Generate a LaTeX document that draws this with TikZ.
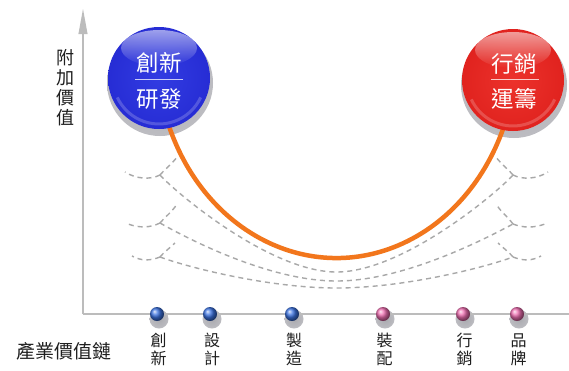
\documentclass[tikz,border=0pt]{standalone}
\usepackage{fontspec}
\newfontfamily\cjk{Noto Sans CJK TC}
\usetikzlibrary{fadings}
\definecolor{axisgray}{RGB}{188,188,188}
\definecolor{dashgray}{RGB}{168,168,168}
\definecolor{curveorange}{RGB}{242,118,28}
\definecolor{bluecore}{RGB}{50,60,226}
\definecolor{bluemid}{RGB}{38,44,212}
\definecolor{bluedeep}{RGB}{26,28,160}
\definecolor{blueedge}{RGB}{16,16,95}
\definecolor{redcore}{RGB}{236,50,44}
\definecolor{redmid}{RGB}{224,34,30}
\definecolor{reddeep}{RGB}{172,16,16}
\definecolor{rededge}{RGB}{105,8,8}
\definecolor{shadowgray}{RGB}{170,170,175}
\definecolor{shadowlight}{RGB}{190,190,195}
\definecolor{beadblue}{RGB}{60,115,225}
\definecolor{beadpink}{RGB}{238,110,176}
\pgfdeclareradialshading{bluebtn}{\pgfpoint{0bp}{0bp}}{color(0bp)=(bluecore); color(26bp)=(bluemid); color(32bp)=(bluedeep); color(35.4bp)=(blueedge); color(50bp)=(blueedge)}
\pgfdeclareradialshading{redbtn}{\pgfpoint{0bp}{0bp}}{color(0bp)=(redcore); color(26bp)=(redmid); color(32bp)=(reddeep); color(35.4bp)=(rededge); color(50bp)=(rededge)}
\pgfdeclareradialshading{softshadow}{\pgfpoint{0bp}{0bp}}{color(0bp)=(shadowgray); color(27bp)=(shadowlight); color(35.4bp)=(white); color(50bp)=(white)}
\tikzfading[name=glossfade, top color=transparent!45, bottom color=transparent!100]
\tikzset{
  dashcurve/.style={dashgray, line width=1.4pt, dash pattern=on 5pt off 4pt},
  ballnote/.style={text=white, inner sep=0pt, font=\cjk\fontsize{22.5}{22.5}\selectfont},
  chainlabel/.style={text=black!88, inner sep=0pt, align=center, font=\cjk\fontsize{16}{18}\selectfont},
}
\begin{document}
\begin{tikzpicture}[x=1pt,y=-1pt]
\useasboundingbox (0,0) rectangle (569,370);
\fill[white] (0,0) rectangle (569,370);
% key points
\coordinate (B) at (159,78);
\coordinate (R) at (513,80);
\coordinate (O) at (83,314);
\coordinate (Ytop) at (83,9);
\coordinate (Yneck) at (83,32);
\coordinate (Xend) at (569,314);
\coordinate (ctr) at (336.5,50);
\foreach \n/\x in {1/157,2/210,3/292,4/383,5/463,6/517}{
  \coordinate (b\n) at (\x,314);
}
% shadows
\shade[shading=softshadow] ([shift={(1,5)}]B) circle (53);
\shade[shading=softshadow] ([shift={(1,5)}]R) circle (53);
\foreach \n in {1,...,6}{
  \shade[shading=softshadow] ([shift={(2,5)}]b\n) circle (9.5);
}
% axes
\draw[axisgray, line width=2.2pt] (O) -- (Yneck);
\fill[axisgray] (Ytop) -- ++(-4.6,25) -- ++(9.2,0) -- cycle;
\draw[axisgray, line width=1.6pt] (O) -- (Xend);
% dashed family
\coordinate (L1) at (160,175); \coordinate (L2) at (160,223); \coordinate (L3) at (160,257);
\coordinate (R1) at (513,175); \coordinate (R2) at (513,224); \coordinate (R3) at (513,257);
\coordinate (M1) at (336.5,272); \coordinate (M2) at (336.5,281); \coordinate (M3) at (336.5,288);
\draw[dashcurve] (L1) .. controls (175,192) and (270,272) .. (M1) .. controls (403,272) and (498,192) .. (R1);
\draw[dashcurve] (L2) .. controls (190,240) and (270,281) .. (M2) .. controls (403,281) and (483,240) .. (R2);
\draw[dashcurve] (L3) .. controls (190,268) and (270,288) .. (M3) .. controls (403,288) and (483,268) .. (R3);
\draw[dashcurve] (L1) .. controls (150,180) and (136,179) .. (125,172);
\draw[dashcurve] (L2) .. controls (150,228) and (139,228) .. (128,224);
\draw[dashcurve] (L3) .. controls (150,261) and (141,261) .. (132,256);
\draw[dashcurve] (L1) .. controls (166,168) and (172,164) .. (177,157);
\draw[dashcurve] (L2) .. controls (166,216) and (172,212) .. (177,204);
\draw[dashcurve] (L3) .. controls (165,251) and (170,248) .. (175,243);
\draw[dashcurve] (R1) .. controls (523,180) and (537,179) .. (548,172);
\draw[dashcurve] (R2) .. controls (523,228) and (534,228) .. (545,224);
\draw[dashcurve] (R3) .. controls (523,261) and (532,261) .. (541,256);
\draw[dashcurve] (R1) .. controls (507,168) and (501,164) .. (496,157);
\draw[dashcurve] (R2) .. controls (507,216) and (501,212) .. (496,204);
\draw[dashcurve] (R3) .. controls (508,251) and (503,248) .. (498,243);
% smile curve
\draw[curveorange, line width=4.5pt] ([shift={(160:180 and 208)}]ctr) arc[start angle=160, end angle=20, x radius=180, y radius=208];
% big buttons
\shade[shading=bluebtn] (B) circle (51);
\fill[white, path fading=glossfade] ([shift={(0,-30)}]B) ellipse (38 and 18);
\draw[white, opacity=0.2, line width=3pt] ([shift={(25:46)}]B) arc[start angle=25, end angle=155, radius=46];
\shade[shading=redbtn] (R) circle (51);
\fill[white, path fading=glossfade] ([shift={(0,-30)}]R) ellipse (38 and 18);
\draw[white, opacity=0.2, line width=3pt] ([shift={(25:46)}]R) arc[start angle=25, end angle=155, radius=46];
\node[ballnote] (bt) at (159,63) {創新};
\node[ballnote] (bb) at (159,99) {研發};
\draw[white, opacity=0.75, line width=1.2pt] (135,79.5) -- (183,79.5);
\node[ballnote] (rt) at (514,64) {行銷};
\node[ballnote] (rb) at (514,99) {運籌};
\draw[white, opacity=0.75, line width=1.2pt] (491,79.5) -- (539,79.5);
% beads
\foreach \n in {1,2,3}{ \shade[ball color=beadblue] (b\n) circle (7); }
\foreach \n in {4,5,6}{ \shade[ball color=beadpink] (b\n) circle (7); }
% labels
\node[text=black!88, inner sep=0pt, align=center, font=\cjk\fontsize{18}{20}\selectfont] (ylab) at (65,88) {附\\加\\價\\值};
\node[text=black!88, inner sep=0pt, font=\cjk\fontsize{19}{19}\selectfont] (chain) at (64,351) {產業價值鏈};
\node[chainlabel] (c1) at ([shift={(1.5,35.5)}]b1) {創\\新};
\node[chainlabel] (c2) at ([shift={(2,35.5)}]b2) {設\\計};
\node[chainlabel] (c3) at ([shift={(2,35.5)}]b3) {製\\造};
\node[chainlabel] (c4) at ([shift={(1.5,35.5)}]b4) {裝\\配};
\node[chainlabel] (c5) at ([shift={(1.5,35.5)}]b5) {行\\銷};
\node[chainlabel] (c6) at ([shift={(1.5,35.5)}]b6) {品\\牌};
\end{tikzpicture}
\end{document}
